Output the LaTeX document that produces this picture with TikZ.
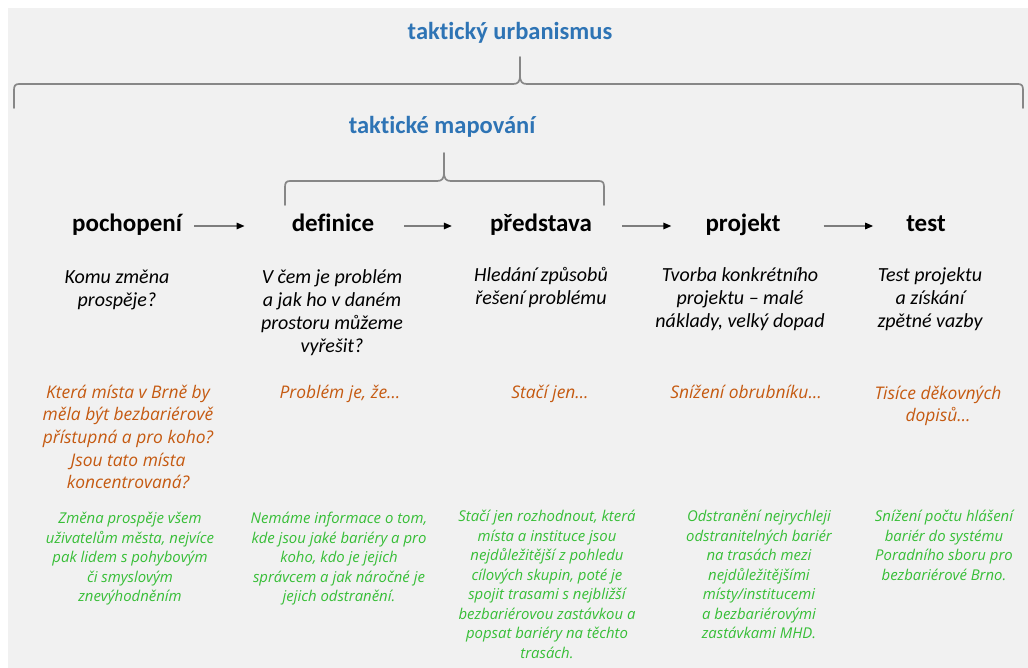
\documentclass[tikz,border=0pt]{standalone}
\usepackage{fontspec}
\setmainfont{Carlito}[Ligatures=NoCommon]
\newfontfamily\osans{Open Sans}
\usetikzlibrary{arrows.meta}
\definecolor{bgc}{RGB}{241,241,241}
\definecolor{tblue}{RGB}{46,116,181}
\definecolor{torange}{RGB}{197,90,17}
\definecolor{tgreen}{RGB}{55,190,55}
\definecolor{brc}{RGB}{135,135,135}
\definecolor{arrc}{RGB}{125,125,125}
\tikzset{
  title/.style={font=\fontsize{24.5}{28}\selectfont\bfseries, text=tblue, inner sep=0pt, anchor=base},
  head/.style={font=\fontsize{25}{29}\selectfont\bfseries, text=black, inner sep=0pt, anchor=base},
  desc/.style={font=\fontsize{20}{23}\selectfont\itshape, text=black, inner sep=0pt, anchor=north, align=center},
  example/.style={font=\osans\fontsize{17.4}{22.7}\selectfont\itshape, text=torange, inner sep=0pt, anchor=north, align=center},
  detail/.style={font=\osans\fontsize{14.9}{19.5}\selectfont\itshape, text=tgreen, inner sep=0pt, anchor=north, align=center},
  brace/.style={draw=brc, line width=1.7pt, line cap=round},
  flow/.style={draw=arrc, line width=1.5pt, -{Triangle[length=8pt,width=6.5pt,fill=black,color=black]}},
}
\begin{document}
\begin{tikzpicture}[x=1pt,y=-1pt]
\useasboundingbox (0,0) rectangle (1028,668);
\fill[white] (0,0) rectangle (1028,668);
\fill[bgc] (8,8) rectangle (1028,668);

% titles
\node[title] (tu) at (510,40) {taktický urbanismus};
\node[title] (tm) at (442,134) {taktické mapování};

% big brace
\draw[brace] (14,108) -- (14,90) .. controls (14,86) and (15,84) .. (19,84) -- (513,84) .. controls (518,84) and (520,82) .. (520,75) -- (520,57);
\draw[brace] (1023,108) -- (1023,90) .. controls (1023,86) and (1022,84) .. (1018,84) -- (527,84) .. controls (522,84) and (520,82) .. (520,75);
% small brace
\draw[brace] (285,205) -- (285,187) .. controls (285,183) and (286,181) .. (290,181) -- (437,181) .. controls (442,181) and (444,179) .. (444,172) -- (444,153);
\draw[brace] (604,205) -- (604,187) .. controls (604,183) and (603,181) .. (599,181) -- (451,181) .. controls (446,181) and (444,179) .. (444,172);

% headings
\node[head] (h1) at (127,232) {pochopení};
\node[head] (h2) at (333,232) {definice};
\node[head] (h3) at (541,232) {představa};
\node[head] (h4) at (743,232) {projekt};
\node[head] (h5) at (926,232) {test};

\draw[flow] ([xshift=12pt,yshift=6pt]h1.base east) -- ([xshift=-47pt,yshift=6pt]h2.base west);
\draw[flow] ([xshift=30pt,yshift=6pt]h2.base east) -- ([xshift=-38pt,yshift=6pt]h3.base west);
\draw[flow] ([xshift=30pt,yshift=6pt]h3.base east) -- ([xshift=-34pt,yshift=6pt]h4.base west);
\draw[flow] ([xshift=43pt,yshift=6pt]h4.base east) -- ([xshift=-33pt,yshift=6pt]h5.base west);

% descriptions
\node[desc] (d1) at (117,267) {\strut Komu změna\\prospěje?};
\node[desc] (d2) at (332,267) {\strut V čem je problém\\a jak ho v daném\\prostoru můžeme\\vyřešit?};
\node[desc] (d3) at (541,265) {\strut Hledání způsobů\\řešení problému};
\node[desc] (d4) at (740,265) {\strut Tvorba konkrétního\\projektu – malé\\náklady, velký dopad};
\node[desc] (d5) at (930,265) {\strut Test projektu\\a získání\\zpětné vazby};

% examples
\node[example] (e1) at (128,382) {\strut Která místa v Brně by\\měla být bezbariérově\\přístupná a pro koho?\\Jsou tato místa\\koncentrovaná?};
\node[example] (e2) at (340,382) {\strut Problém je, že…};
\node[example] (e3) at (550,382) {\strut Stačí jen…};
\node[example] (e4) at (746,382) {\strut Snížení obrubníku…};
\node[example] (e5) at (938,383) {\strut Tisíce děkovných\\dopisů…};

% details
\node[detail] (g1) at (130,510) {\strut Změna prospěje všem\\uživatelům města, nejvíce\\pak lidem s pohybovým\\či smyslovým\\znevýhodněním};
\node[detail] (g2) at (339,510) {\strut Nemáme informace o tom,\\kde jsou jaké bariéry a pro\\koho, kdo je jejich\\správcem a jak náročné je\\jejich odstranění.};
\node[detail] (g3) at (547,508) {\strut Stačí jen rozhodnout, která\\místa a instituce jsou\\nejdůležitější z pohledu\\cílových skupin, poté je\\spojit trasami s nejbližší\\bezbariérovou zastávkou a\\popsat bariéry na těchto\\trasách.};
\node[detail] (g4) at (759,508) {\strut Odstranění nejrychleji\\odstranitelných bariér\\na trasách mezi\\nejdůležitějšími\\místy/institucemi\\a bezbariérovými\\zastávkami MHD.};
\node[detail] (g5) at (944,508) {\strut Snížení počtu hlášení\\bariér do systému\\Poradního sboru pro\\bezbariérové Brno.};
\end{tikzpicture}
\end{document}
